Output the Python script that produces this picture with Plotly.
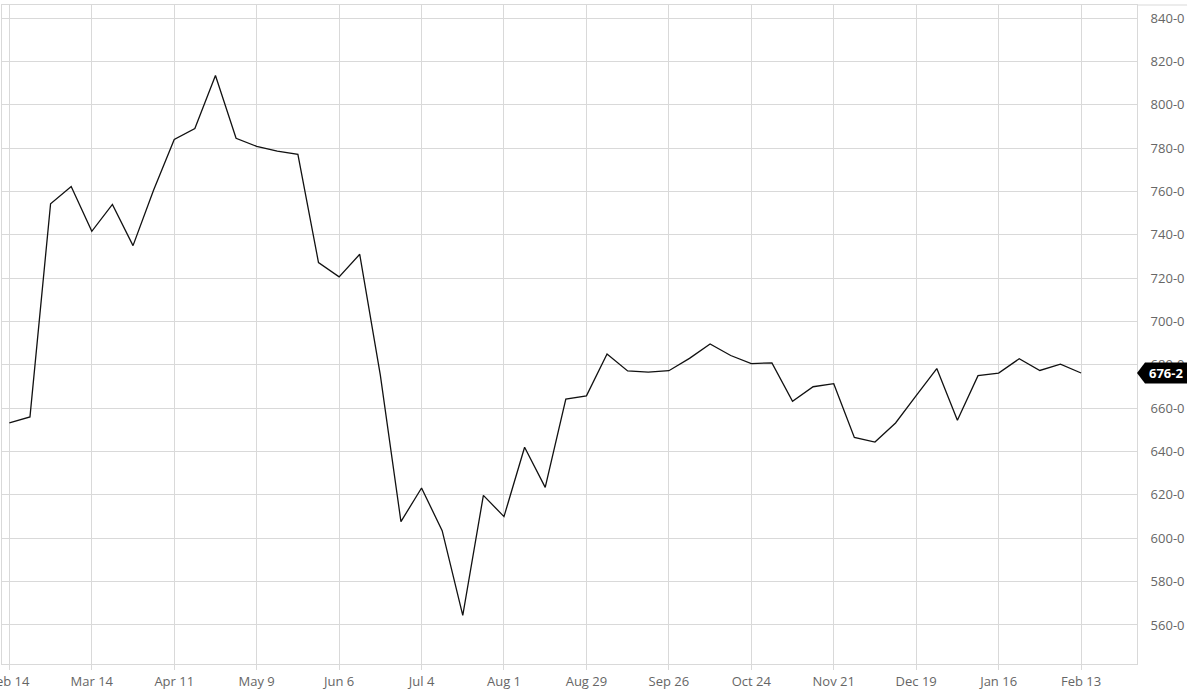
import pandas as pd
import plotly.graph_objects as go

# ---- data ----
start_date = "2022-02-14"
prices = [
    653.2, 656.0, 754.3, 762.3, 741.6, 754.0, 735.0, 760.7, 784.0, 789.0,
    813.5, 784.5, 780.8, 778.6, 777.1, 727.2, 720.6, 731.0, 675.3, 607.7,
    623.2, 603.5, 564.4, 619.8, 610.0, 642.0, 623.5, 664.2, 665.7, 685.0,
    677.2, 676.6, 677.3, 683.0, 689.6, 684.3, 680.6, 680.9, 663.2, 669.9,
    671.3, 646.5, 644.4, 653.2, 665.8, 678.3, 654.4, 675.0, 676.2, 682.8,
    677.4, 680.3, 676.25,
]
dates = pd.date_range(start_date, periods=len(prices), freq="7D")

x_tick_dates = ["2022-02-14", "2022-03-14", "2022-04-11", "2022-05-09", "2022-06-06",
                "2022-07-04", "2022-08-01", "2022-08-29", "2022-09-26", "2022-10-24",
                "2022-11-21", "2022-12-19", "2023-01-16", "2023-02-13"]
x_tick_labels = ["Feb 14", "Mar 14", "Apr 11", "May 9", "Jun 6", "Jul 4", "Aug 1",
                 "Aug 29", "Sep 26", "Oct 24", "Nov 21", "Dec 19", "Jan 16", "Feb 13"]
y_tick_vals = [560, 580, 600, 620, 640, 660, 680, 700, 720, 740, 760, 780, 800, 820, 840]


def fmt_eighths(v):
    whole = int(v)
    frac = round((v - whole) * 8)
    return f"{whole}-{frac}"


y_tick_labels = [fmt_eighths(v) for v in y_tick_vals]
last_value = prices[-1]

GRID = "#d9d9d9"
FONT = "Open Sans, Noto Sans, sans-serif"

fig = go.Figure()
fig.add_trace(go.Scatter(
    x=dates, y=prices, mode="lines",
    line=dict(color="#111111", width=1.3),
    hoverinfo="x+y", showlegend=False,
))

fig.update_layout(
    width=1200, height=698,
    margin=dict(l=2, r=63, t=5, b=34, autoexpand=False),
    paper_bgcolor="white", plot_bgcolor="white",
    font=dict(family=FONT, size=13, color="#666666"),
    xaxis=dict(
        range=["2022-02-11 12:00", "2023-03-04"],
        tickvals=pd.to_datetime(x_tick_dates), ticktext=x_tick_labels,
        showgrid=True, gridcolor=GRID, gridwidth=1,
        ticks="outside", ticklen=5, tickcolor=GRID,
        showline=True, linecolor=GRID, mirror=True,
        zeroline=False, ticklabeloverflow="allow", automargin=False,
        tickfont=dict(size=13, color="#666666"),
    ),
    yaxis=dict(
        range=[542, 846], side="right",
        tickvals=y_tick_vals, ticktext=y_tick_labels,
        showgrid=True, gridcolor=GRID, gridwidth=1,
        ticks="", ticklabelstandoff=10, automargin=False,
        showline=True, linecolor=GRID, mirror=True,
        zeroline=False,
        tickfont=dict(size=13, color="#666666"),
    ),
)

# top border continuing over the label area
fig.add_shape(type="line", xref="paper", yref="paper", x0=1, x1=1.0441, y0=1, y1=1,
              line=dict(color=GRID, width=1))

# last value marker
fig.add_shape(type="path", xref="paper", yref="y",
              xsizemode="pixel", ysizemode="pixel", xanchor=1, yanchor=last_value,
              path="M 0,0 L 8,-10.5 L 50,-10.5 L 50,10.5 L 8,10.5 Z",
              fillcolor="black", line=dict(color="black", width=0), layer="above")
fig.add_annotation(x=1, xref="paper", y=last_value, yref="y", xshift=29,
                   xanchor="center", yanchor="middle", showarrow=False,
                   text=f"<b>{fmt_eighths(last_value)}</b>",
                   font=dict(family=FONT, size=13, color="white"))

fig.write_html(
    "out.html",
    config={"displayModeBar": False},
    post_script="document.body.style.margin='0';document.body.style.overflow='hidden';",
)
